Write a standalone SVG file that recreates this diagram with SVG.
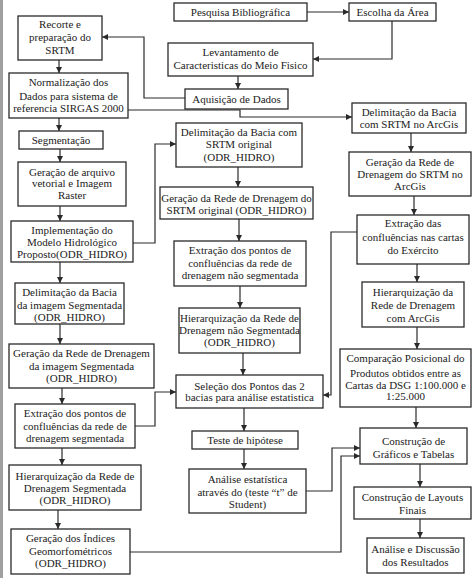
<svg xmlns="http://www.w3.org/2000/svg" width="474" height="578" viewBox="0 0 474 578" font-family="Liberation Serif, serif">
<style>
.b{fill:#fff;stroke:#2a2a2a;stroke-width:1.3}
.t{font-size:11px;fill:#222;text-anchor:middle}
.c{fill:none;stroke:#2a2a2a;stroke-width:1.2}
</style>
<defs>
<marker id="ah" markerUnits="userSpaceOnUse" markerWidth="7" markerHeight="6" refX="6" refY="3" orient="auto">
<path d="M0,0 L6,3 L0,6 z" fill="#2a2a2a"/>
</marker>
</defs>
<rect x="0" y="0" width="474" height="578" fill="#fff"/>
<rect x="0" y="0" width="3" height="578" fill="#a0a0a0"/>

<g id="connectors">
<path class="c" d="M307,12 H349" marker-end="url(#ah)"/>
<path class="c" d="M392,21 V59 H313" marker-end="url(#ah)"/>
<path class="c" d="M238,76 V89" marker-end="url(#ah)"/>
<path class="c" d="M185,98 H144 V37 H102" marker-end="url(#ah)"/>
<path class="c" d="M128,110 H240 V117 H352" marker-end="url(#ah)"/>
<path class="c" d="M59,60 V73" marker-end="url(#ah)"/>
<path class="c" d="M59,118 V131" marker-end="url(#ah)"/>
<path class="c" d="M60,149 V162" marker-end="url(#ah)"/>
<path class="c" d="M60,206 V221" marker-end="url(#ah)"/>
<path class="c" d="M60,262 V283" marker-end="url(#ah)"/>
<path class="c" d="M60,324 V344" marker-end="url(#ah)"/>
<path class="c" d="M62,388 V404" marker-end="url(#ah)"/>
<path class="c" d="M62,448 V465" marker-end="url(#ah)"/>
<path class="c" d="M58,510 V529" marker-end="url(#ah)"/>
<path class="c" d="M133,243 H155 V144 H176" marker-end="url(#ah)"/>
<path class="c" d="M238,167 V187" marker-end="url(#ah)"/>
<path class="c" d="M239,219 V241" marker-end="url(#ah)"/>
<path class="c" d="M240,286 V308" marker-end="url(#ah)"/>
<path class="c" d="M243,353 V375" marker-end="url(#ah)"/>
<path class="c" d="M135,426 H155 V392 H176" marker-end="url(#ah)"/>
<path class="c" d="M244,408 V431" marker-end="url(#ah)"/>
<path class="c" d="M244,449 V469" marker-end="url(#ah)"/>
<path class="c" d="M306,491 H332 V448 H360" marker-end="url(#ah)"/>
<path class="c" d="M130,552 H341 V456 H360" marker-end="url(#ah)"/>
<path class="c" d="M411,133 V152" marker-end="url(#ah)"/>
<path class="c" d="M414,196 V215" marker-end="url(#ah)"/>
<path class="c" d="M417,264 V282" marker-end="url(#ah)"/>
<path class="c" d="M417,327 V349" marker-end="url(#ah)"/>
<path class="c" d="M357,232 H331 V395 H323" marker-end="url(#ah)"/>
<path class="c" d="M416,407 V428" marker-end="url(#ah)"/>
<path class="c" d="M420,464 V487" marker-end="url(#ah)"/>
<path class="c" d="M420,519 V538" marker-end="url(#ah)"/>
</g>

<g id="pesquisa"><rect class="b" x="174" y="3" width="133" height="18"/><text class="t" x="240.5" y="16">Pesquisa Bibliográfica</text></g>
<g id="escolha"><rect class="b" x="349" y="3" width="87" height="18"/><text class="t" x="392.5" y="16">Escolha da Área</text></g>
<g id="levantamento"><rect class="b" x="168" y="43" width="145" height="33"/><text class="t" x="240.5" y="56">Levantamento de</text><text class="t" x="240.5" y="69">Caracteristicas do Meio Fisico</text></g>
<g id="aquisicao"><rect class="b" x="185" y="89" width="103" height="20"/><text class="t" x="236.5" y="103">Aquisição de Dados</text></g>
<g id="recorte"><rect class="b" x="18" y="16" width="84" height="44"/><text class="t" x="60" y="28">Recorte e</text><text class="t" x="60" y="41">preparação do</text><text class="t" x="60" y="54">SRTM</text></g>
<g id="normalizacao"><rect class="b" x="9" y="73" width="119" height="45"/><text class="t" x="68.5" y="86">Normalização dos</text><text class="t" x="68.5" y="100">Dados para sistema de</text><text class="t" x="68.5" y="112">referencia  SIRGAS 2000</text></g>
<g id="segmentacao"><rect class="b" x="19" y="131" width="84" height="18"/><text class="t" x="61" y="144">Segmentação</text></g>
<g id="geracao-arquivo"><rect class="b" x="18" y="162" width="108" height="44"/><text class="t" x="72" y="176">Geração de arquivo</text><text class="t" x="72" y="187">vetorial e Imagem</text><text class="t" x="72" y="199">Raster</text></g>
<g id="implementacao"><rect class="b" x="11" y="221" width="122" height="41"/><text class="t" x="72" y="234">Implementação do</text><text class="t" x="72" y="246">Modelo Hidrológico</text><text class="t" x="72" y="258">Proposto(ODR_HIDRO)</text></g>
<g id="delim-seg"><rect class="b" x="15" y="283" width="109" height="41"/><text class="t" x="69.5" y="296">Delimitação da Bacia</text><text class="t" x="69.5" y="309">da imagem  Segmentada</text><text class="t" x="69.5" y="321">(ODR_HIDRO)</text></g>
<g id="rede-seg"><rect class="b" x="9" y="344" width="145" height="44"/><text class="t" x="81.5" y="357">Geração da Rede de Drenagem</text><text class="t" x="81.5" y="370">da imagem  Segmentada</text><text class="t" x="81.5" y="382">(ODR_HIDRO)</text></g>
<g id="extr-seg"><rect class="b" x="15" y="404" width="120" height="44"/><text class="t" x="75" y="417">Extração dos pontos de</text><text class="t" x="75" y="430">confluências da rede de</text><text class="t" x="75" y="442">drenagem  segmentada</text></g>
<g id="hier-seg"><rect class="b" x="9" y="465" width="132" height="45"/><text class="t" x="75" y="480">Hierarquização da Rede de</text><text class="t" x="75" y="492">Drenagem Segmentada</text><text class="t" x="75" y="504">(ODR_HIDRO)</text></g>
<g id="indices"><rect class="b" x="11" y="529" width="119" height="45"/><text class="t" x="70.5" y="542">Geração dos Índices</text><text class="t" x="70.5" y="555">Geomorfométricos</text><text class="t" x="70.5" y="567">(ODR_HIDRO)</text></g>

<g id="delim-orig"><rect class="b" x="176" y="123" width="126" height="44"/><text class="t" x="239" y="136">Delimitação da Bacia com</text><text class="t" x="239" y="148">SRTM original</text><text class="t" x="239" y="161">(ODR_HIDRO)</text></g>
<g id="rede-orig"><rect class="b" x="160" y="187" width="153" height="32"/><text class="t" x="236.5" y="202">Geração da Rede de Drenagem do</text><text class="t" x="236.5" y="214">SRTM original (ODR_HIDRO)</text></g>
<g id="extr-orig"><rect class="b" x="174" y="241" width="132" height="45"/><text class="t" x="240" y="254">Extração dos pontos de</text><text class="t" x="240" y="267">confluências da rede de</text><text class="t" x="240" y="279">drenagem não segmentada</text></g>
<g id="hier-orig"><rect class="b" x="179" y="308" width="121" height="45"/><text class="t" x="239.5" y="322">Hierarquização da Rede de</text><text class="t" x="239.5" y="334">Drenagem não Segmentada</text><text class="t" x="239.5" y="346">(ODR_HIDRO)</text></g>
<g id="selecao"><rect class="b" x="176" y="375" width="147" height="33"/><text class="t" x="249.5" y="390">Seleção dos Pontos das 2</text><text class="t" x="249.5" y="401">bacias para análise  estatistica</text></g>
<g id="teste"><rect class="b" x="192" y="431" width="106" height="18"/><text class="t" x="245" y="444">Teste de hipótese</text></g>
<g id="analise-t"><rect class="b" x="189" y="469" width="117" height="44"/><text class="t" x="247.5" y="483">Análise estatística</text><text class="t" x="247.5" y="496">através do (teste “t” de</text><text class="t" x="247.5" y="508">Student)</text></g>

<g id="delim-arcgis"><rect class="b" x="352" y="103" width="114" height="30"/><text class="t" x="409" y="116">Delimitação da Bacia</text><text class="t" x="409" y="128">com SRTM no ArcGis</text></g>
<g id="rede-arcgis"><rect class="b" x="349" y="152" width="122" height="44"/><text class="t" x="410" y="166">Geração da Rede de</text><text class="t" x="410" y="178">Drenagem  do SRTM no</text><text class="t" x="410" y="190">ArcGis</text></g>
<g id="extr-exercito"><rect class="b" x="357" y="215" width="112" height="49"/><text class="t" x="413" y="227">Extração  das</text><text class="t" x="413" y="241">confluências nas cartas</text><text class="t" x="413" y="254">do Exército</text></g>
<g id="hier-arcgis"><rect class="b" x="362" y="282" width="102" height="45"/><text class="t" x="413" y="296">Hierarquização da</text><text class="t" x="413" y="309">Rede de Drenagem</text><text class="t" x="413" y="322">com ArcGis</text></g>
<g id="comparacao"><rect class="b" x="340" y="349" width="131" height="58"/><text class="t" x="405.5" y="362">Comparação Posicional do</text><text class="t" x="405.5" y="377">Produtos obtidos  entre as</text><text class="t" x="405.5" y="389">Cartas da DSG 1:100.000 e</text><text class="t" x="405.5" y="400">1:25.000</text></g>
<g id="graficos"><rect class="b" x="360" y="428" width="107" height="36"/><text class="t" x="413.5" y="445">Construção de</text><text class="t" x="413.5" y="458">Gráficos e Tabelas</text></g>
<g id="layouts"><rect class="b" x="354" y="487" width="117" height="32"/><text class="t" x="412.5" y="501">Construção de Layouts</text><text class="t" x="412.5" y="514">Finais</text></g>
<g id="discussao"><rect class="b" x="367" y="538" width="97" height="35"/><text class="t" x="415.5" y="553">Análise e Discussão</text><text class="t" x="415.5" y="566">dos Resultados</text></g>
</svg>
